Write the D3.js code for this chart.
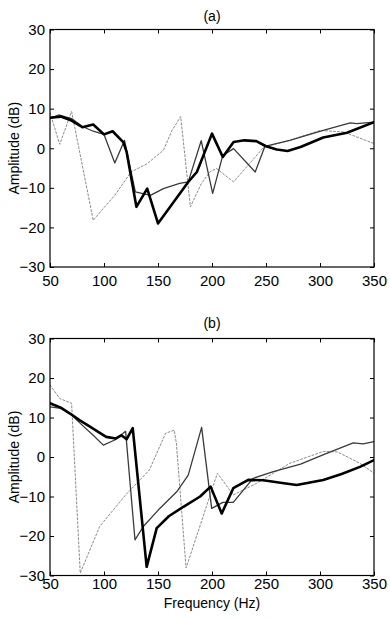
<!DOCTYPE html>
<html>
<head>
<meta charset="utf-8">
<script src="https://cdn.jsdelivr.net/npm/d3@7"></script>
<style>
html,body{margin:0;padding:0;background:#fff;}
svg{display:block;}
text{font-family:"Liberation Sans",Arial,Helvetica,sans-serif;fill:#000;}
</style>
</head>
<body>
<svg id="chart" width="390" height="618"></svg>
<script>
// ---------- DATA ----------
const xTicks = [50, 100, 150, 200, 250, 300, 350];
const yTicks = [30, 20, 10, 0, -10, -20, -30];
const panelTitles = ["(a)", "(b)"];
const xLabel = "Frequency (Hz)";
const yLabel = "Amplitude (dB)";

// Panel (a)
const aThickF = [50,60,70,80,90,100,108,118,121,130,140,150,178,186,200,210,220,230,241,250,260,270,282,303,325,350];
const aThickV = [7.7,8.0,7.0,5.3,6.0,3.5,4.3,1.5,-1,-14.8,-10.2,-19,-8.5,-6,3.7,-2.2,1.6,2.0,1.8,0.5,-0.3,-0.7,0.3,2.7,3.9,6.6];
const aThinF  = [50,58,70,80,90,100,110,119,129,143,155,170,178,190,200.6,210,220,240,249,272,303,328,334,350];
const aThinV  = [7.5,8.4,7.5,5.5,4.3,3.5,-3.7,2.0,-11,-11.9,-10.2,-8.9,-8.5,1.9,-11.4,-1.8,-0.1,-6,0.5,2.0,4.5,6.4,6.2,6.6];
const aDotF   = [50,59,70,90,100,110,125,140,155,163,171,180,190,198,204,220,248,272,300,322,350];
const aDotV   = [9,1,9.3,-18.2,-15,-11.9,-6,-3.9,-0.5,4.5,8,-14.8,-9,-6,-5.1,-8.5,0.3,2,4.5,4.1,1.2];

// Panel (b)
const bThickF = [50,60,68.5,78,87,95,102,111,116,121,126.6,139.5,148.8,160,173.5,189,198.7,209,219.7,233.6,247.5,265,278.4,303,320,337,350];
const bThickV = [13.6,12.5,11,9.2,7.7,6.3,5.1,4.7,5.5,4.5,7.3,-27.8,-18,-15,-12.6,-10,-7.5,-14.3,-7.9,-5.8,-5.9,-6.6,-7.1,-5.8,-4.3,-2.5,-0.8];
const bThinF  = [50,60,68.5,80,90,99.4,110,120,128.7,136.4,150,167.3,178,190.4,199.7,210,219.7,238,256.8,282,305,330.8,340,350];
const bThinV  = [12.7,12.3,11,8,5.5,3.0,4.3,6.5,-21,-17.6,-13.5,-8.8,-4.6,7.5,-13,-11.5,-11.5,-5.4,-3.7,-1.8,0.8,3.6,3.3,3.9];
const bDotF   = [50,59,70,78,96,120,142,157,165,167,176,205,219.7,241,272,303,316,337,350];
const bDotV   = [18.2,14.8,13.6,-29.4,-17.6,-9.6,-3.3,6,6.8,3.5,-28.1,-4.1,-9.6,-6.7,-1.6,1.4,1.3,-1.6,-4.1];

// ---------- DRAW ----------
const svg = d3.select("#chart");
const x = d3.scaleLinear().domain([50, 350]).range([50, 374]);

const panels = [
  { title: panelTitles[0], top: 29.5, bottom: 267, titleY: 21, xPad: 8,
    series: [ {f:aDotF, v:aDotV, type:"dot"}, {f:aThinF, v:aThinV, type:"thin"}, {f:aThickF, v:aThickV, type:"thick"} ] },
  { title: panelTitles[1], top: 338.5, bottom: 575.5, titleY: 328, xPad: 3,
    series: [ {f:bDotF, v:bDotV, type:"dot"}, {f:bThinF, v:bThinV, type:"thin"}, {f:bThickF, v:bThickV, type:"thick"} ] }
];

const styles = {
  dot:   {stroke:"#8a8a8a", width:1.0, dash:"2,2"},
  thin:  {stroke:"#3a3a3a", width:1.3, dash:null},
  thick: {stroke:"#000",    width:2.6, dash:null}
};

panels.forEach((p, i) => {
  const y = d3.scaleLinear().domain([-30, 30]).range([p.bottom, p.top]);
  const g = svg.append("g");
  const clipId = "clip" + i;
  svg.append("clipPath").attr("id", clipId).append("rect")
    .attr("x", x(50)).attr("y", p.top).attr("width", x(350) - x(50)).attr("height", p.bottom - p.top);

  const line = d3.line().x(d => x(d[0])).y(d => y(d[1]));
  const lg = g.append("g").attr("clip-path", `url(#${clipId})`);
  p.series.forEach(s => {
    const st = styles[s.type];
    const pts = s.f.map((f, k) => [f, s.v[k]]);
    lg.append("path").datum(pts).attr("d", line)
      .attr("fill", "none").attr("stroke", st.stroke).attr("stroke-width", st.width)
      .attr("stroke-linejoin", "round").attr("stroke-linecap", "round")
      .attr("stroke-dasharray", st.dash);
  });

  // axes with inward ticks
  const axL = d3.axisLeft(y).tickValues(yTicks).tickSizeInner(-4).tickSizeOuter(0).tickPadding(5).tickFormat(d3.format("d"));
  const axR = d3.axisRight(y).tickValues(yTicks).tickSizeInner(-4).tickSizeOuter(0).tickFormat("");
  const axB = d3.axisBottom(x).tickValues(xTicks).tickSizeInner(-4).tickSizeOuter(0).tickPadding(p.xPad).tickFormat(d3.format("d"));
  const axT = d3.axisTop(x).tickValues(xTicks).tickSizeInner(-4).tickSizeOuter(0).tickFormat("");

  const gL = g.append("g").attr("transform", `translate(${x(50)},0)`).call(axL);
  const gR = g.append("g").attr("transform", `translate(${x(350)},0)`).call(axR);
  const gB = g.append("g").attr("transform", `translate(0,${p.bottom})`).call(axB);
  const gT = g.append("g").attr("transform", `translate(0,${p.top})`).call(axT);
  [gL, gR, gB, gT].forEach(a => {
    a.select(".domain").remove();
    a.selectAll("line").attr("stroke", "#000").attr("stroke-width", 1);
    a.selectAll("text").style("font-family", '"Liberation Sans",Arial,sans-serif').style("font-size", "15px").attr("fill", "#000");
  });

  g.append("rect").attr("x", x(50)).attr("y", p.top)
    .attr("width", x(350) - x(50)).attr("height", p.bottom - p.top)
    .attr("fill", "none").attr("stroke", "#000").attr("stroke-width", 1.2);

  g.append("text").attr("x", x(200)).attr("y", p.titleY).attr("text-anchor", "middle")
    .style("font-size", "14px").text(p.title);

  g.append("text").attr("transform", `translate(19,${y(0)}) rotate(-90)`)
    .attr("text-anchor", "middle").style("font-size", "14px").text(yLabel);
});

svg.append("text").attr("x", x(200)).attr("y", 608).attr("text-anchor", "middle")
  .style("font-size", "14px").text(xLabel);
</script>
</body>
</html>
